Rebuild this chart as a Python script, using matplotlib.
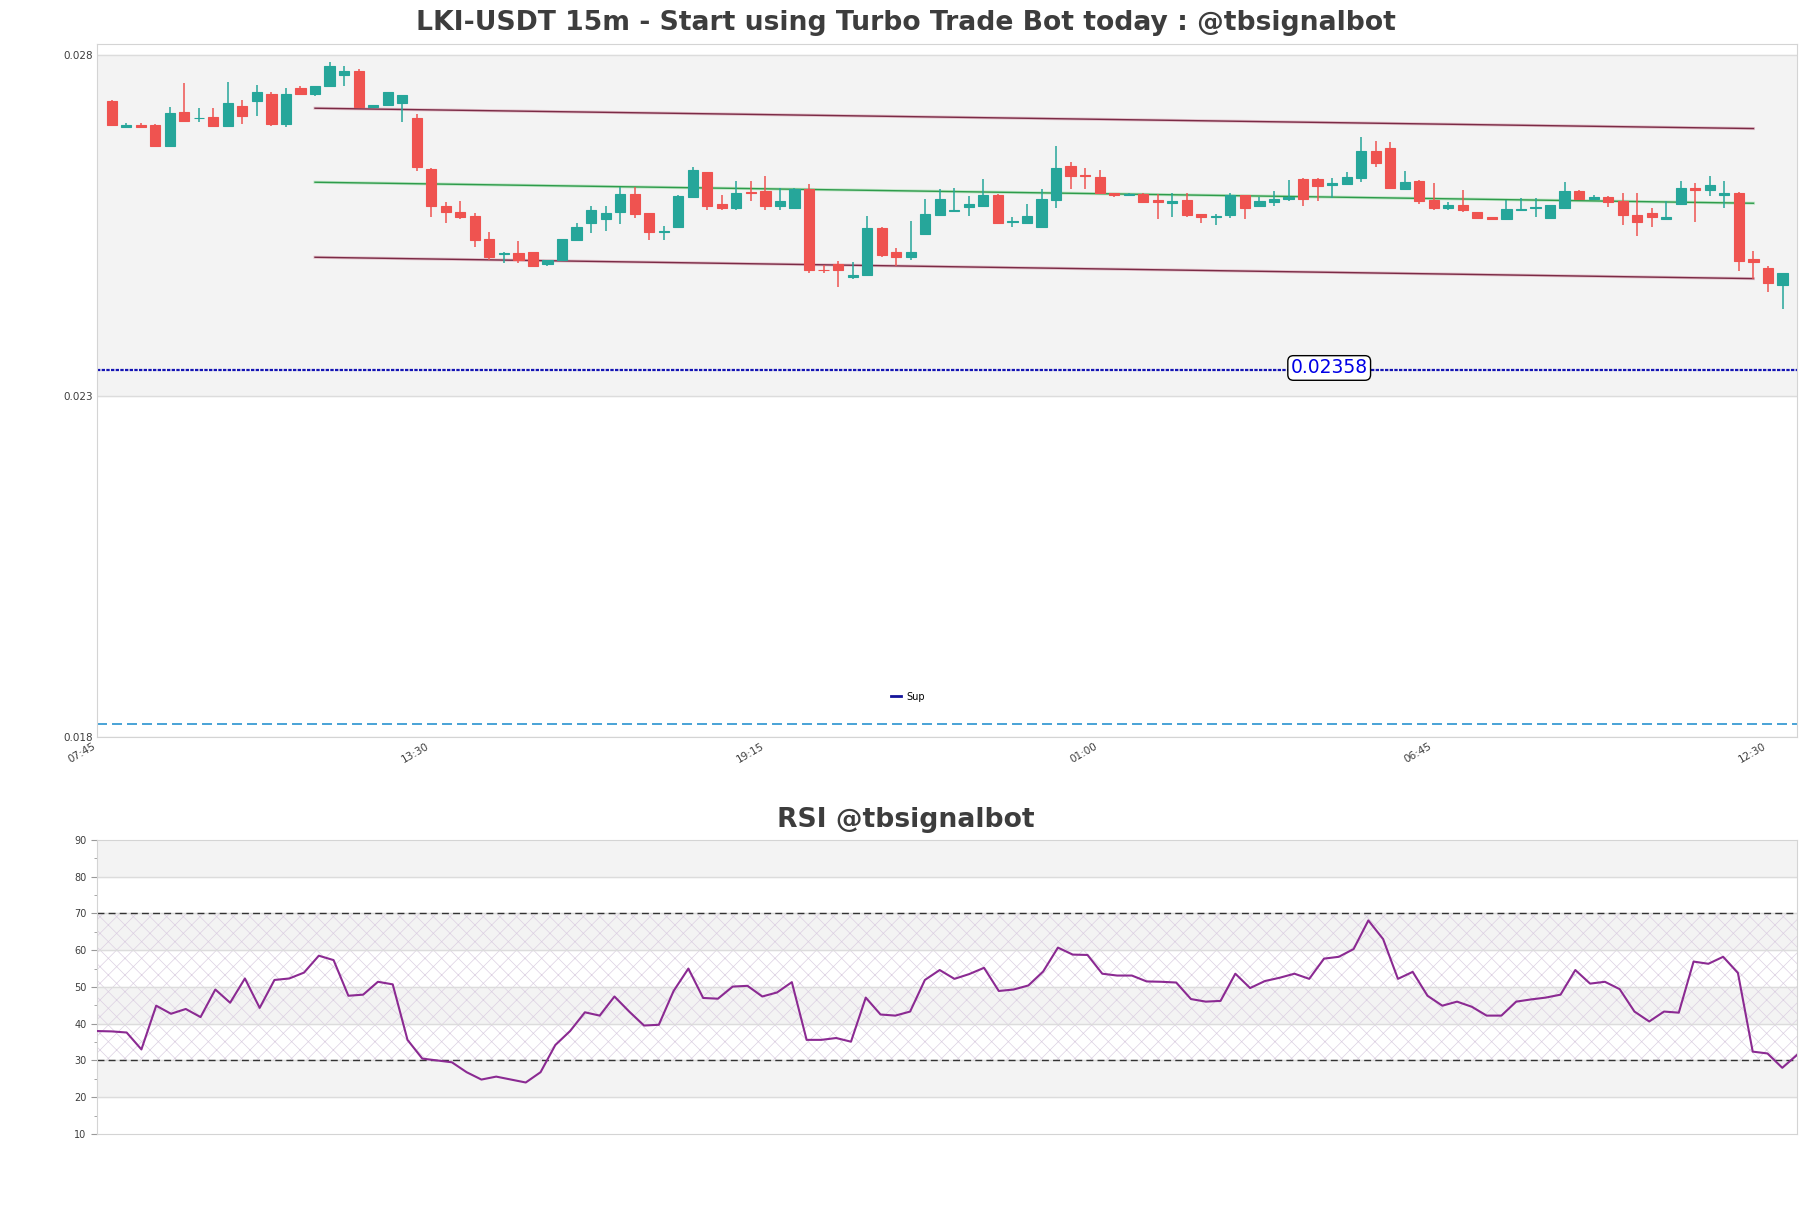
import matplotlib.pyplot as plt
from matplotlib.lines import Line2D
from matplotlib.ticker import MultipleLocator

# x axis labels (15m candles, label every 23 bars)
times = ['07:45', '13:30', '19:15', '01:00', '06:45', '12:30']
time_pos = [-1, 22, 45, 68, 91, 114]

opens = [0.02732, 0.02695, 0.02697, 0.02697, 0.02667, 0.02716, 0.02707, 0.02709, 0.02696, 0.02725,
         0.02733, 0.02743, 0.02698, 0.02751, 0.02743, 0.02754, 0.02770, 0.02777, 0.02723, 0.02726,
         0.02729, 0.02708, 0.02633, 0.02579, 0.02570, 0.02564, 0.02530, 0.02508, 0.02510, 0.02511,
         0.02493, 0.02499, 0.02529, 0.02553, 0.02559, 0.02569, 0.02596, 0.02568, 0.02541, 0.02548,
         0.02592, 0.02628, 0.02582, 0.02576, 0.02599, 0.02601, 0.02579, 0.02576, 0.02603, 0.02485,
         0.02493, 0.02474, 0.02478, 0.02546, 0.02511, 0.02504, 0.02537, 0.02566, 0.02571, 0.02577,
         0.02578, 0.02595, 0.02555, 0.02554, 0.02547, 0.02587, 0.02637, 0.02624, 0.02621, 0.02597,
         0.02594, 0.02596, 0.02587, 0.02583, 0.02587, 0.02567, 0.02563, 0.02566, 0.02594, 0.02578,
         0.02585, 0.02589, 0.02618, 0.02618, 0.02609, 0.02611, 0.02620, 0.02659, 0.02664, 0.02604,
         0.02615, 0.02587, 0.02575, 0.02580, 0.02569, 0.02562, 0.02560, 0.02573, 0.02576, 0.02561,
         0.02576, 0.02601, 0.02588, 0.02592, 0.02586, 0.02566, 0.02568, 0.02559, 0.02582, 0.02605,
         0.02602, 0.02594, 0.02598, 0.02501, 0.02487, 0.02462]
highs = [0.02734, 0.02700, 0.02700, 0.02698, 0.02723, 0.02759, 0.02722, 0.02722, 0.02760, 0.02734,
         0.02756, 0.02745, 0.02751, 0.02754, 0.02755, 0.02789, 0.02784, 0.02780, 0.02727, 0.02746,
         0.02741, 0.02714, 0.02634, 0.02584, 0.02586, 0.02568, 0.02540, 0.02511, 0.02527, 0.02511,
         0.02500, 0.02530, 0.02553, 0.02579, 0.02579, 0.02607, 0.02606, 0.02568, 0.02549, 0.02595,
         0.02636, 0.02629, 0.02595, 0.02615, 0.02615, 0.02623, 0.02605, 0.02605, 0.02611, 0.02492,
         0.02498, 0.02496, 0.02564, 0.02547, 0.02517, 0.02557, 0.02589, 0.02603, 0.02605, 0.02593,
         0.02618, 0.02596, 0.02563, 0.02582, 0.02604, 0.02667, 0.02643, 0.02634, 0.02631, 0.02597,
         0.02597, 0.02598, 0.02596, 0.02597, 0.02597, 0.02567, 0.02567, 0.02598, 0.02595, 0.02592,
         0.02601, 0.02617, 0.02619, 0.02619, 0.02620, 0.02628, 0.02679, 0.02674, 0.02672, 0.02630,
         0.02616, 0.02612, 0.02584, 0.02602, 0.02570, 0.02562, 0.02587, 0.02590, 0.02590, 0.02580,
         0.02613, 0.02602, 0.02594, 0.02593, 0.02598, 0.02598, 0.02576, 0.02586, 0.02615, 0.02612,
         0.02623, 0.02615, 0.02599, 0.02512, 0.02491, 0.02480]
lows = [0.02697, 0.02694, 0.02694, 0.02666, 0.02666, 0.02702, 0.02702, 0.02695, 0.02695, 0.02698,
        0.02711, 0.02696, 0.02695, 0.02742, 0.02740, 0.02753, 0.02755, 0.02723, 0.02723, 0.02725,
        0.02701, 0.02630, 0.02563, 0.02554, 0.02560, 0.02519, 0.02499, 0.02495, 0.02495, 0.02489,
        0.02490, 0.02499, 0.02529, 0.02539, 0.02542, 0.02552, 0.02561, 0.02529, 0.02529, 0.02547,
        0.02592, 0.02572, 0.02572, 0.02572, 0.02586, 0.02573, 0.02572, 0.02576, 0.02480, 0.02480,
        0.02459, 0.02471, 0.02477, 0.02504, 0.02491, 0.02499, 0.02537, 0.02566, 0.02569, 0.02564,
        0.02577, 0.02552, 0.02547, 0.02554, 0.02546, 0.02575, 0.02604, 0.02604, 0.02596, 0.02592,
        0.02593, 0.02584, 0.02560, 0.02562, 0.02563, 0.02554, 0.02550, 0.02561, 0.02560, 0.02577,
        0.02578, 0.02586, 0.02578, 0.02586, 0.02590, 0.02611, 0.02613, 0.02636, 0.02604, 0.02603,
        0.02582, 0.02572, 0.02572, 0.02569, 0.02560, 0.02559, 0.02559, 0.02571, 0.02563, 0.02560,
        0.02575, 0.02587, 0.02587, 0.02577, 0.02551, 0.02535, 0.02548, 0.02558, 0.02581, 0.02555,
        0.02593, 0.02575, 0.02483, 0.02472, 0.02452, 0.02428]
closes = [0.02697, 0.02697, 0.02695, 0.02667, 0.02715, 0.02703, 0.02708, 0.02696, 0.02730, 0.02710,
          0.02746, 0.02698, 0.02743, 0.02743, 0.02755, 0.02784, 0.02776, 0.02724, 0.02727, 0.02746,
          0.02741, 0.02635, 0.02578, 0.02569, 0.02563, 0.02529, 0.02503, 0.02509, 0.02499, 0.02490,
          0.02500, 0.02530, 0.02548, 0.02573, 0.02568, 0.02596, 0.02567, 0.02541, 0.02542, 0.02593,
          0.02631, 0.02578, 0.02576, 0.02597, 0.02597, 0.02579, 0.02586, 0.02603, 0.02484, 0.02484,
          0.02485, 0.02477, 0.02546, 0.02506, 0.02503, 0.02511, 0.02567, 0.02589, 0.02572, 0.02582,
          0.02595, 0.02554, 0.02556, 0.02564, 0.02589, 0.02634, 0.02623, 0.02623, 0.02597, 0.02594,
          0.02596, 0.02585, 0.02585, 0.02586, 0.02566, 0.02563, 0.02564, 0.02594, 0.02576, 0.02586,
          0.02589, 0.02592, 0.02588, 0.02608, 0.02612, 0.02621, 0.02659, 0.02642, 0.02605, 0.02614,
          0.02586, 0.02575, 0.02580, 0.02572, 0.02561, 0.02560, 0.02574, 0.02574, 0.02577, 0.02580,
          0.02601, 0.02589, 0.02592, 0.02584, 0.02566, 0.02555, 0.02563, 0.02562, 0.02605, 0.02602,
          0.02609, 0.02598, 0.02498, 0.02496, 0.02466, 0.02480]

rsi = [38.0, 37.9, 37.6, 33.0, 44.9, 42.7, 44.0, 41.8, 49.3, 45.7,
       52.3, 44.3, 51.9, 52.3, 53.9, 58.5, 57.3, 47.6, 47.9, 51.4,
       50.7, 35.6, 30.5, 30.0, 29.5, 26.8, 24.8, 25.6, 24.8, 24.0,
       26.8, 34.2, 38.0, 43.1, 42.2, 47.4, 43.3, 39.5, 39.7, 48.9,
       55.0, 47.0, 46.8, 50.1, 50.3, 47.4, 48.5, 51.3, 35.6, 35.6,
       36.1, 35.1, 47.1, 42.5, 42.2, 43.3, 51.9, 54.6, 52.2, 53.5,
       55.2, 48.9, 49.3, 50.4, 54.2, 60.7, 58.8, 58.7, 53.6, 53.1,
       53.1, 51.5, 51.4, 51.2, 46.7, 46.0, 46.2, 53.6, 49.7, 51.6,
       52.5, 53.6, 52.2, 57.7, 58.2, 60.3, 68.1, 63.0, 52.2, 54.1,
       47.6, 44.9, 46.0, 44.6, 42.2, 42.2, 46.0, 46.6, 47.1, 47.9,
       54.6, 50.9, 51.4, 49.4, 43.3, 40.6, 43.3, 43.0, 56.9, 56.3,
       58.2, 53.8, 32.4, 31.9, 28.0, 31.5]

# channel lines
trend_x = [14, 113]
upper_line = [0.027218, 0.026920]
mid_line = [0.026133, 0.025825]
lower_line = [0.025033, 0.024720]

sup_level = 0.02338
sup_text = '0.02358'
bottom_level = 0.01819

UP = '#26a69a'
DOWN = '#ef5350'
TXT = '#3d3d3d'

fig = plt.figure(figsize=(18.11, 12.08), dpi=100)
ax = fig.add_axes([0.0536, 0.3899, 0.9387, 0.5737])
ax2 = fig.add_axes([0.0536, 0.0613, 0.9387, 0.2434])

# ---- price panel ----
ax.axhspan(0.023, 0.028, color='#f3f3f3', zorder=0)
for lv in [0.018, 0.023, 0.028]:
    ax.axhline(lv, color='#dcdcdc', lw=1, zorder=0.5)

idx = list(range(len(opens)))
colors = [UP if c >= o else DOWN for o, c in zip(opens, closes)]
ax.vlines(idx, lows, highs, colors=colors, linewidth=1.1, zorder=2)
ax.bar(idx, [abs(c - o) for o, c in zip(opens, closes)],
       bottom=[min(o, c) for o, c in zip(opens, closes)],
       width=0.7, color=colors, edgecolor=colors, linewidth=0.8, zorder=3)

ax.plot(trend_x, upper_line, color='#d8a0b0', lw=2.2, alpha=0.6, zorder=1.5)
ax.plot(trend_x, upper_line, color='#7a2a45', lw=1, zorder=1.6)
ax.plot(trend_x, lower_line, color='#d8a0b0', lw=2.2, alpha=0.6, zorder=1.5)
ax.plot(trend_x, lower_line, color='#7a2a45', lw=1, zorder=1.6)
ax.plot(trend_x, mid_line, color='#9ddca8', lw=2.2, alpha=0.6, zorder=1.5)
ax.plot(trend_x, mid_line, color='#2e9b4b', lw=1, zorder=1.6)

ax.axhline(sup_level, color='#1414b4', lw=1.6, linestyle=(0, (1.5, 0.6)), zorder=2)
ax.text(83.8, sup_level + 0.00003, sup_text, color='#0000e6', fontsize=13.5,
        ha='center', va='center', zorder=5,
        bbox=dict(boxstyle='round,pad=0.15,rounding_size=0.3', fc='white', ec='black', lw=1))
ax.axhline(bottom_level, color='#2a93d0', lw=1.2, linestyle=(0, (6, 3)), zorder=2)

ax.legend(handles=[Line2D([], [], color='#14149a', lw=2)], labels=['Sup'],
          loc='center', bbox_to_anchor=(0.477, 0.058), frameon=False,
          fontsize=7, handlelength=1.0, handletextpad=0.6)

ax.set_xlim(-1, 116)
ax.set_ylim(0.018, 0.02816)
ax.set_yticks([0.018, 0.023, 0.028])
ax.set_yticklabels(['0.018', '0.023', '0.028'])
ax.set_xticks(time_pos)
ax.set_xticklabels(times, rotation=30, ha='right')
ax.tick_params(axis='both', length=0, labelsize=7.5, labelcolor=TXT, pad=3)
for sp in ax.spines.values():
    sp.set_color('#d4d4d4')

# ---- RSI panel ----
plt.rcParams['hatch.linewidth'] = 0.5
for lo, hi in [(80, 90), (60, 70), (40, 50), (20, 30)]:
    ax2.axhspan(lo, hi, color='#f3f3f3', zorder=0)
ax2.axhspan(30, 70, facecolor='none', edgecolor='#dcd0e2', hatch='xx', linewidth=0, zorder=0.3)
for lv in range(20, 90, 10):
    ax2.axhline(lv, color='#dcdcdc', lw=1, zorder=0.5)
ax2.axhline(70, color='#333333', lw=1, linestyle=(0, (5, 3)), zorder=2)
ax2.axhline(30, color='#333333', lw=1, linestyle=(0, (5, 3)), zorder=2)
ax2.plot(range(len(rsi)), rsi, color='#8b2a92', lw=1.5, zorder=3)

ax2.set_xlim(0, len(rsi) - 1)
ax2.set_ylim(10, 90)
ax2.set_yticks(range(10, 91, 10))
ax2.yaxis.set_minor_locator(MultipleLocator(5))
ax2.set_xticks([])
ax2.tick_params(axis='y', which='major', length=4, color='#999999', labelsize=7, labelcolor=TXT)
ax2.tick_params(axis='y', which='minor', length=2, color='#999999')
for sp in ax2.spines.values():
    sp.set_color('#d4d4d4')

# titles are centred on the figure, not on the axes
fig.text(0.5, 0.981, 'LKI-USDT 15m - Start using Turbo Trade Bot today : @tbsignalbot',
         fontsize=19.2, fontweight='bold', color=TXT, ha='center', va='center')
fig.text(0.5, 0.3212, 'RSI @tbsignalbot',
         fontsize=19.2, fontweight='bold', color=TXT, ha='center', va='center')

fig.savefig('out.png', dpi=100)
